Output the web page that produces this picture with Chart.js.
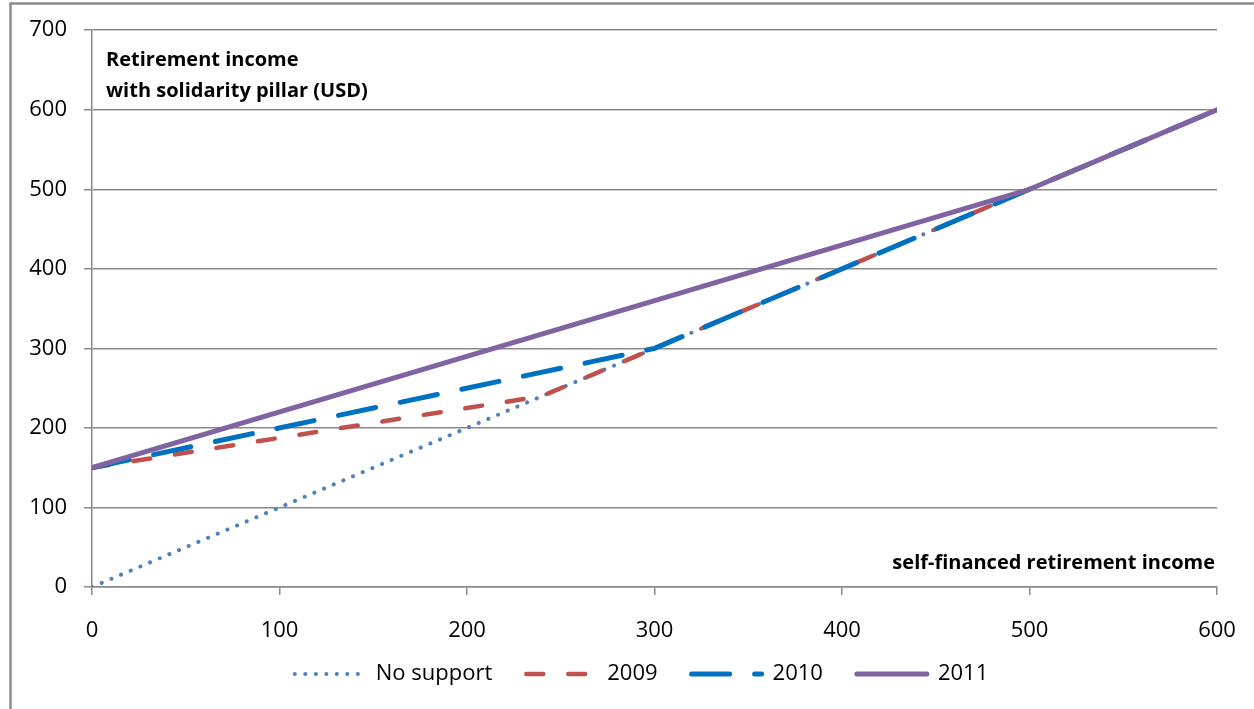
<!DOCTYPE html>
<html>
<head>
<meta charset="utf-8">
<script src="https://cdn.jsdelivr.net/npm/chart.js@4"></script>
<style>
  html, body { margin: 0; padding: 0; background: #fff; }
  #wrap { position: relative; width: 1254px; height: 709px; }
</style>
</head>
<body>
<div id="wrap"><canvas id="c" width="1254" height="709"></canvas></div>
<script>
// ---- data ----
const seriesNames = ['No support', '2009', '2010', '2011'];
const xTicks = [0, 100, 200, 300, 400, 500, 600];
const yTicks = [0, 100, 200, 300, 400, 500, 600, 700];

const noSupportX = [0, 600];
const noSupportY = [0, 600];
const s2009X = [0, 240, 600];
const s2009Y = [150, 240, 600];
const s2010X = [0, 300, 600];
const s2010Y = [150, 300, 600];
const s2011X = [0, 500, 600];
const s2011Y = [150, 500, 600];

const yAxisTitle = ['Retirement income', 'with solidarity pillar (USD)'];
const xAxisTitle = 'self-financed retirement income';

function pts(xs, ys) { return xs.map((x, i) => ({ x: x, y: ys[i] })); }

const FONT = '"Open Sans", "DejaVu Sans", sans-serif';
const GRID = '#8a8a8a';

const borderPlugin = {
  id: 'frame',
  beforeDraw(chart) {
    const ctx = chart.ctx;
    ctx.save();
    ctx.strokeStyle = '#8c8c8c';
    ctx.lineWidth = 2.5;
    ctx.beginPath();
    ctx.moveTo(10.5, 1300);
    ctx.lineTo(10.5, 3.5);
    ctx.lineTo(1300, 3.5);
    ctx.stroke();
    ctx.restore();
  }
};

// move the legend box only while drawing (does not affect layout)
let saved = null;
const legendShift = {
  id: 'legendShift',
  beforeDraw(chart) {
    const lg = chart.legend;
    if (!lg) return;
    saved = { top: lg.top, bottom: lg.bottom, left: lg.left, right: lg.right };
    const h = lg.bottom - lg.top;
    lg.top = 629;
    lg.bottom = 629 + h;
    lg.left += 27;
    lg.right += 27;
  },
  afterDraw(chart) {
    const lg = chart.legend;
    if (!lg || !saved) return;
    Object.assign(lg, saved);
    saved = null;
  }
};

const textPlugin = {
  id: 'axisTexts',
  afterDraw(chart) {
    const ctx = chart.ctx;
    const a = chart.chartArea;
    ctx.save();
    ctx.fillStyle = '#000';
    ctx.font = 'bold 20px ' + FONT;
    ctx.textBaseline = 'middle';
    ctx.textAlign = 'left';
    ctx.fillText(yAxisTitle[0], a.left + 14, 60);
    ctx.fillText(yAxisTitle[1], a.left + 14, 91);
    ctx.textAlign = 'right';
    ctx.fillText(xAxisTitle, a.right - 2, 563);
    ctx.restore();
  }
};

const common = { pointRadius: 0, pointHoverRadius: 0, fill: false, tension: 0, borderCapStyle: 'round', borderJoinStyle: 'round' };

new Chart(document.getElementById('c'), {
  type: 'line',
  data: {
    datasets: [
      Object.assign({}, common, {
        label: seriesNames[0], data: pts(noSupportX, noSupportY),
        borderColor: '#4F81BD', backgroundColor: '#4F81BD', borderWidth: 4,
        borderDash: [0.1, 10.4], order: 4
      }),
      Object.assign({}, common, {
        label: seriesNames[1], data: pts(s2009X, s2009Y),
        borderColor: '#C0504D', backgroundColor: '#C0504D', borderWidth: 4.5,
        borderDash: [17, 25], order: 3
      }),
      Object.assign({}, common, {
        label: seriesNames[2], data: pts(s2010X, s2010Y),
        borderColor: '#0070C0', backgroundColor: '#0070C0', borderWidth: 5,
        borderDash: [38, 25], order: 2
      }),
      Object.assign({}, common, {
        label: seriesNames[3], data: pts(s2011X, s2011Y),
        borderColor: '#8064A2', backgroundColor: '#8064A2', borderWidth: 5,
        order: 1
      })
    ]
  },
  options: {
    responsive: false,
    animation: false,
    devicePixelRatio: 1,
    events: [],
    layout: { padding: { left: 12, top: 30, right: 37, bottom: 0 } },
    plugins: {
      tooltip: { enabled: false },
      legend: {
        position: 'bottom',
        maxHeight: 60,
        labels: {
          usePointStyle: true,
          pointStyle: 'line',
          pointStyleWidth: 70,
          padding: 34,
          color: '#000',
          font: { family: FONT, size: 22 },
          sort: (a, b) => a.datasetIndex - b.datasetIndex,
          generateLabels(chart) {
            return chart.data.datasets.map((ds, i) => ({
              text: ds.label,
              datasetIndex: i,
              fillStyle: ds.borderColor,
              strokeStyle: ds.borderColor,
              lineWidth: ds.borderWidth,
              lineDash: ds.borderDash || [],
              lineDashOffset: 0,
              lineCap: 'round',
              lineJoin: 'round',
              pointStyle: 'line',
              hidden: false,
              fontColor: '#000'
            }));
          }
        }
      }
    },
    scales: {
      x: {
        type: 'linear',
        min: 0, max: 600,
        afterFit(s) { s.height = 62; s.paddingLeft = 0; s.paddingRight = 0; },
        afterBuildTicks(s) { s.ticks = xTicks.map(v => ({ value: v })); },
        grid: { drawOnChartArea: false, drawTicks: true, tickLength: 8, color: GRID, lineWidth: 1.5 },
        border: { display: true, color: GRID, width: 1.5 },
        ticks: { color: '#000', padding: 23, maxRotation: 0, font: { family: FONT, size: 22 } }
      },
      y: {
        type: 'linear',
        min: 0, max: 700,
        afterFit(s) { s.width = 80; },
        afterBuildTicks(s) { s.ticks = yTicks.map(v => ({ value: v })); },
        grid: { drawOnChartArea: true, drawTicks: true, tickLength: 8, color: GRID, lineWidth: 1.5 },
        border: { display: true, color: GRID, width: 1.5 },
        ticks: { color: '#000', padding: 17, font: { family: FONT, size: 22 } }
      }
    }
  },
  plugins: [borderPlugin, legendShift, textPlugin]
});
</script>
</body>
</html>
